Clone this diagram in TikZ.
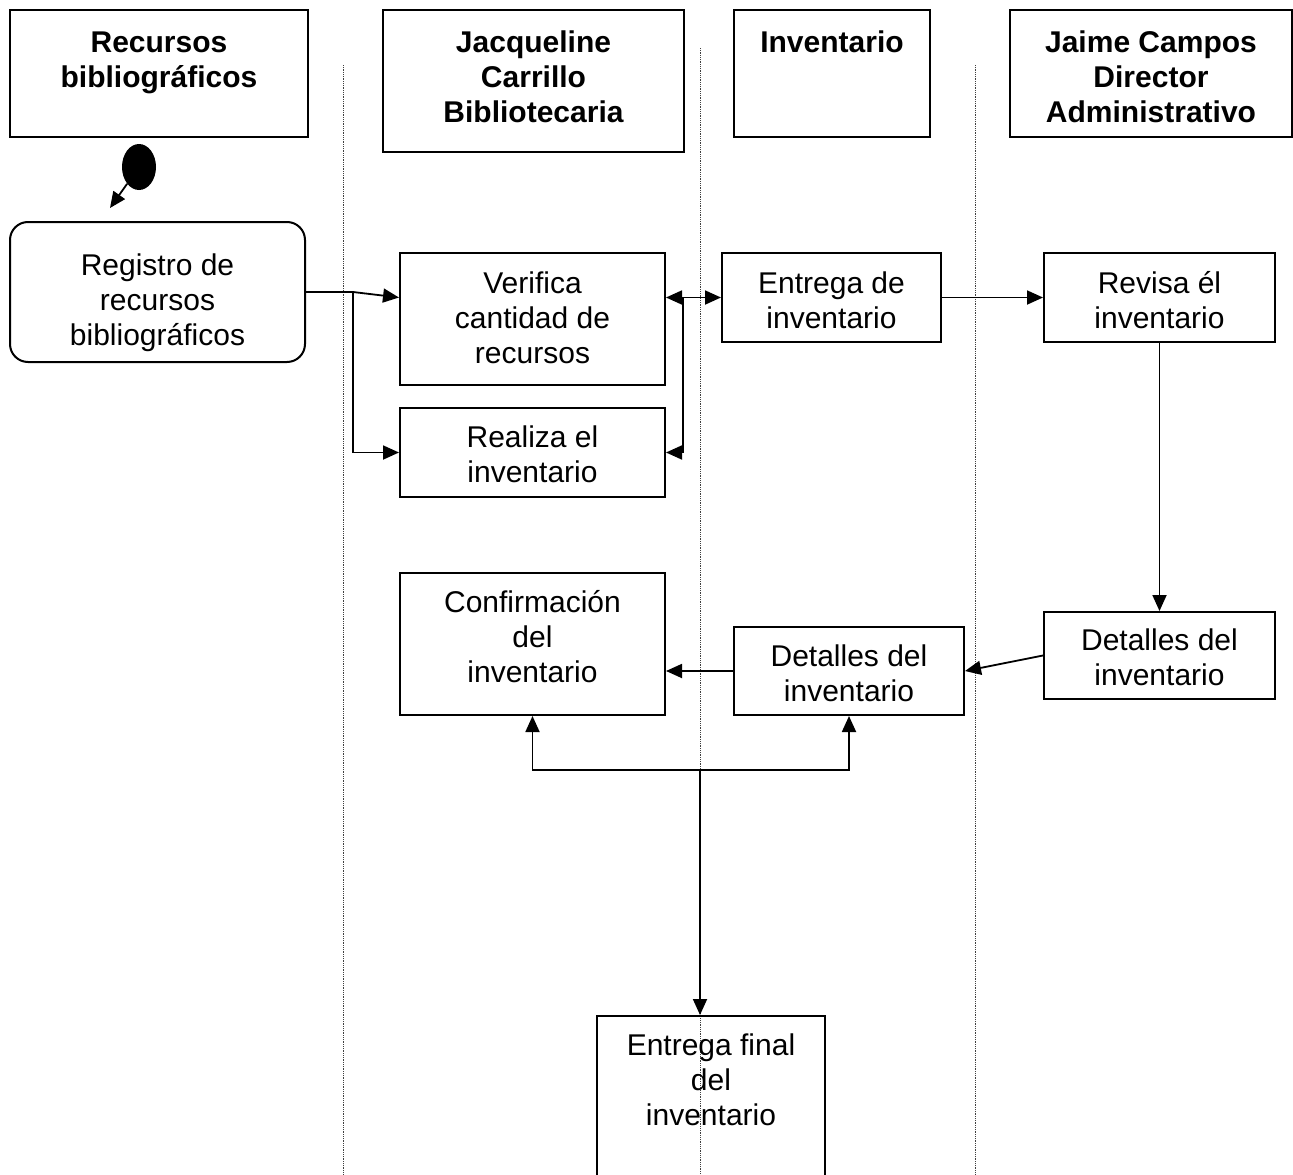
\documentclass[tikz,border=0pt]{standalone}
\usepackage{fontspec}
\setmainfont{Liberation Sans}
\usetikzlibrary{arrows.meta,calc,shapes.geometric}

\begin{document}
\begin{tikzpicture}[x=1pt,y=-1pt,
  box/.style={draw,line width=2pt,inner sep=0pt},
  txt/.style={inner sep=0pt,align=center,font=\fontsize{30}{35}\selectfont},
  hdrtext/.style={inner sep=0pt,align=center,
              font=\fontsize{30}{35}\selectfont\bfseries},
  lane/.style={densely dotted,line width=0.8pt,black!75},
  flow/.style={line width=1.8pt,-{Triangle[length=16pt,width=14pt]}},
  flowboth/.style={line width=1.8pt,{Triangle[length=16pt,width=14pt]}-{Triangle[length=16pt,width=14pt]}},
  link/.style={line width=1.8pt}]

\useasboundingbox (0,0) rectangle (1293,1175);

% swimlane separators
\draw[lane] (343,65) -- (343,1175);
\draw[lane] (700,48) -- (700,1175);
\draw[lane] (975,65) -- (975,1175);

% lane headers
\node[box,minimum width=298,minimum height=127] (h1) at (159,73.5) {};
\node[hdrtext] (h1t) at (159,63) {Recursos\\bibliográficos};
\node[box,minimum width=301,minimum height=142] (h2) at (533.5,81) {};
\node[hdrtext] (h2t) at (533.5,77) {Jacqueline\\Carrillo\\Bibliotecaria};
\node[box,minimum width=196,minimum height=127] (h3) at (832,73.5) {};
\node[hdrtext] (h3t) at (832,42) {Inventario};
\node[box,minimum width=282,minimum height=127] (h4) at (1151,73.5) {};
\node[hdrtext] (h4t) at (1151,77) {Jaime Campos\\Director\\Administrativo};

% start point
\node[ellipse,fill=black,minimum width=34,minimum height=46,inner sep=0pt] (start) at (139,167) {};
\coordinate (s1) at (110,208);
\draw[flow] (start) -- (s1);

% activity boxes
\node[box,rounded corners=18pt,minimum width=295,minimum height=140] (reg) at (157.5,292) {};
\node[box,minimum width=265,minimum height=132] (ver) at (532.5,319) {};
\node[box,minimum width=265,minimum height=89] (rea) at (532.5,452.5) {};
\node[box,minimum width=219,minimum height=89] (ent) at (831.5,297.5) {};
\node[box,minimum width=231,minimum height=89] (rev) at (1159.5,297.5) {};
\node[box,minimum width=265,minimum height=142] (conf) at (532.5,644) {};
\node[box,minimum width=230,minimum height=88] (det1) at (849,671) {};
\node[box,minimum width=231,minimum height=87] (det2) at (1159.5,655.5) {};
\node[box,minimum width=228,minimum height=180,anchor=north] (fin) at (711,1015) {};

% activity labels
\node[txt] (regt) at (157.5,303) {Registro de\\recursos\\bibliográficos};
\node[txt] (vert) at (532.5,318) {Verifica\\cantidad de\\recursos};
\node[txt] (reat) at (532.5,454) {Realiza el\\inventario};
\node[txt] (entt) at (831.5,300) {Entrega de\\inventario};
\node[txt] (revt) at (1159.5,300) {Revisa él\\inventario};
\node[txt] (conft) at (532.5,637) {Confirmación\\del\\inventario};
\node[txt] (det1t) at (849,673) {Detalles del\\inventario};
\node[txt] (det2t) at (1159.5,657.5) {Detalles del\\inventario};
\node[txt] (fint) at (711,1080) {Entrega final\\del\\inventario};

% junction points
\coordinate (j1) at (353,292);
\coordinate (j2) at (683,297.5);
\coordinate (j3) at (700,770);

% connectors
\draw[link] (reg.east) -- (j1);
\draw[flow] (j1) -- (ent.west -| ver.west);
\draw[flow] (j1) |- (rea.west);
\draw[flowboth] (ent.west -| ver.east) -- (ent.west);
\draw[flow] (j2) |- (rea.east);
\draw[flow] (ent.east) -- (rev.west);
\draw[flow] (rev.south) -- (det2.north);
\draw[flow] (det2.west) -- (det1.east);
\draw[flow] (det1.west) -- (det1.west -| conf.east);
\draw[flow] (j3) -| (conf.south);
\draw[flow] (j3) -| (det1.south);
\draw[flow] (j3) -- (fin.north -| j3);

\end{tikzpicture}
\end{document}
